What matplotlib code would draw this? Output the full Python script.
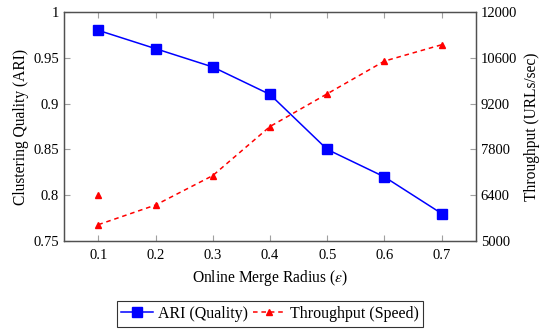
import matplotlib.pyplot as plt
from matplotlib.ticker import FixedLocator

plt.rcParams['font.family'] = ['Liberation Serif', 'DejaVu Serif']
plt.rcParams['mathtext.fontset'] = 'stix'

radius = [0.1, 0.2, 0.3, 0.4, 0.5, 0.6, 0.7]
ari = [0.98, 0.96, 0.94, 0.91, 0.85, 0.82, 0.78]
throughput = [5500, 6100, 7000, 8500, 9500, 10500, 11000]
# lone marker that appears at radius 0.1 in the original
stray_x = [0.1]
stray_y = [6400]

ari_ticks = [0.75, 0.8, 0.85, 0.9, 0.95, 1.0]
ari_labels = ['0.75', '0.8', '0.85', '0.9', '0.95', '1']
tp_ticks = [5000, 6400, 7800, 9200, 10600, 12000]

fig = plt.figure(figsize=(5.5, 3.34), dpi=100)
ax = fig.add_axes([0.1164, 0.2784, 0.749, 0.6856])
ax2 = ax.twinx()

ax.plot(radius, ari, color='blue', marker='s', markersize=6.5, linewidth=1.1,
        label='ARI (Quality)')
ax2.plot(radius, throughput, color='red', linestyle=(0, (3, 2.5)), marker='^',
         markersize=5, linewidth=1.1, label='Throughput (Speed)')
ax2.plot(stray_x, stray_y, color='red', marker='^', markersize=5, linestyle='none')

ax.set_xlim(0.04, 0.76)
ax.set_ylim(0.75, 1.0)
ax2.set_ylim(5000, 12000)
ax.set_xticks(radius)
ax.set_xticklabels([f'{r:.1f}' for r in radius])
ax.yaxis.set_major_locator(FixedLocator(ari_ticks))
ax.set_yticklabels(ari_labels)
ax2.yaxis.set_major_locator(FixedLocator(tp_ticks))
ax2.set_yticklabels([str(t) for t in tp_ticks])

for a in (ax, ax2):
    for s in a.spines.values():
        s.set_color('#505050')
        s.set_linewidth(0.9)
ax.tick_params(axis='x', direction='in', top=True, length=4, color='#a0a0a0',
               labelsize=10.5, pad=6)
ax.tick_params(axis='y', direction='in', length=4, color='#a0a0a0', labelsize=10.5)
ax2.tick_params(axis='y', direction='in', length=4, color='#a0a0a0', labelsize=10.5)

ax.set_xlabel(r'Online Merge Radius ($\epsilon$)', fontsize=11.2, labelpad=4)
ax.set_ylabel('Clustering Quality (ARI)', fontsize=11.2, labelpad=3)
ax2.set_ylabel('Throughput (URLs/sec)', fontsize=11.2, labelpad=5)

h1, l1 = ax.get_legend_handles_labels()
h2, l2 = ax2.get_legend_handles_labels()
leg = fig.legend(h1 + h2, l1 + l2, loc='center', bbox_to_anchor=(270 / 550, 1 - 314 / 334),
                 ncol=2, fontsize=11.5, frameon=True, fancybox=False, edgecolor='black',
                 handlelength=2.0, handletextpad=0.3, columnspacing=0.3, borderpad=0.3,
                 numpoints=1)
leg.get_frame().set_linewidth(0.8)

fig.savefig('out.png', dpi=100)
